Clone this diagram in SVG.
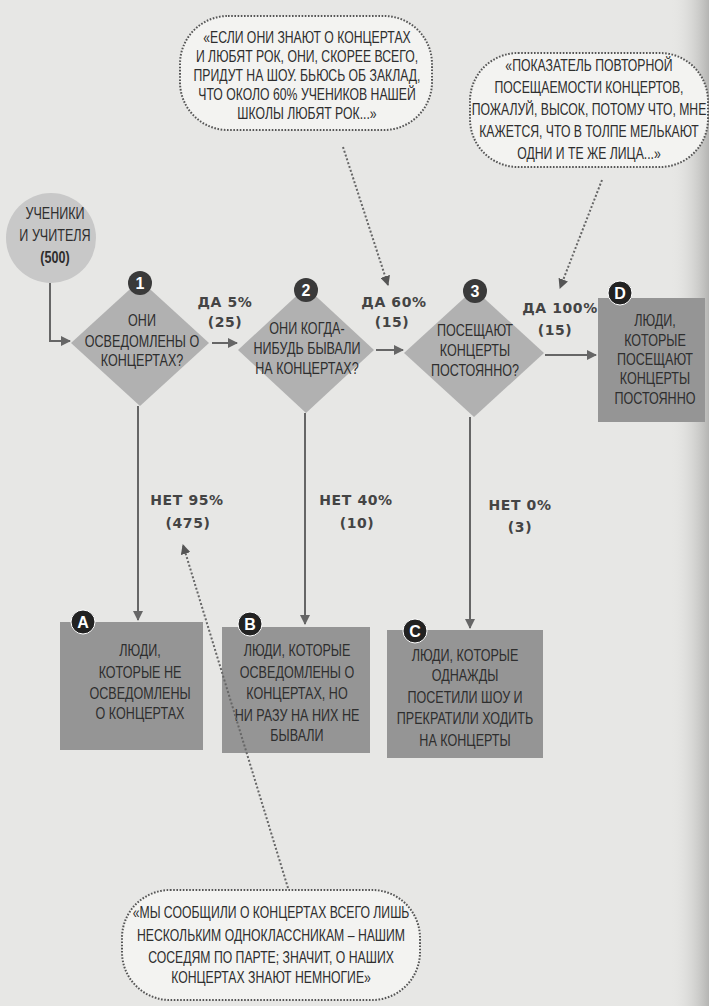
<svg xmlns="http://www.w3.org/2000/svg" width="709" height="1006" viewBox="0 0 709 1006">
<defs>
<style>
.t{font-family:"Liberation Sans",Arial,sans-serif;font-size:17px;fill:#2e2e2e;text-anchor:middle}
.tb{font-family:"Liberation Sans",Arial,sans-serif;font-size:17px;fill:#2e2e2e;text-anchor:middle;font-weight:bold}
.lab{font-family:"DejaVu Sans",sans-serif;font-weight:bold;font-size:14px;fill:#444;text-anchor:middle;letter-spacing:0.6px}
.num{font-family:"Liberation Sans",Arial,sans-serif;font-weight:bold;font-size:16px;fill:#fff;text-anchor:middle}
.dia{fill:#b1b1b1}
.box{fill:#959595}
.bub{fill:#f3f3f1;stroke:#555;stroke-width:2;stroke-dasharray:1.6 1.6}
.con{fill:none;stroke:#666;stroke-width:2}
.dot{fill:none;stroke:#666;stroke-width:2;stroke-dasharray:2 2}
.badge{fill:#222;stroke:#fff;stroke-width:1}
.nbadge{fill:#3a3a3a}
</style>
<marker id="ah" viewBox="0 0 10 10" refX="9" refY="5" markerWidth="5" markerHeight="5" orient="auto" markerUnits="strokeWidth">
<path d="M0,0 L10,5 L0,10 z" fill="#666"/>
</marker>
<marker id="ahd" viewBox="0 0 10 10" refX="9" refY="5" markerWidth="5" markerHeight="5" orient="auto" markerUnits="strokeWidth">
<path d="M0,0 L10,5 L0,10 z" fill="#555"/>
</marker>
<linearGradient id="edge" x1="0" y1="0" x2="1" y2="0">
<stop offset="0" stop-color="#e7e7e5" stop-opacity="0"/>
<stop offset="1" stop-color="#b5b5b3" stop-opacity="1"/>
</linearGradient>
</defs>
<rect x="0" y="0" width="709" height="1006" fill="#e7e7e5"/>
<rect x="670" y="0" width="39" height="1006" fill="url(#edge)"/>

<g id="bubble1">
<rect class="bub" x="180" y="16" width="252" height="114" rx="48"/>
<g transform="translate(307 0) scale(0.72 1)">
<text class="t" x="0" y="43">«ЕСЛИ ОНИ ЗНАЮТ О КОНЦЕРТАХ</text>
<text class="t" x="0" y="62">И ЛЮБЯТ РОК, ОНИ, СКОРЕЕ ВСЕГО,</text>
<text class="t" x="0" y="81">ПРИДУТ НА ШОУ. БЬЮСЬ ОБ ЗАКЛАД,</text>
<text class="t" x="0" y="100">ЧТО ОКОЛО 60% УЧЕНИКОВ НАШЕЙ</text>
<text class="t" x="0" y="119">ШКОЛЫ ЛЮБЯТ РОК...»</text>
</g>
</g>

<g id="bubble2">
<rect class="bub" x="470" y="53" width="238" height="114" rx="48"/>
<g transform="translate(589 0) scale(0.72 1)">
<text class="t" x="0" y="71">«ПОКАЗАТЕЛЬ ПОВТОРНОЙ</text>
<text class="t" x="0" y="93">ПОСЕЩАЕМОСТИ КОНЦЕРТОВ,</text>
<text class="t" x="0" y="115">ПОЖАЛУЙ, ВЫСОК, ПОТОМУ ЧТО,  МНЕ</text>
<text class="t" x="0" y="137">КАЖЕТСЯ, ЧТО В ТОЛПЕ МЕЛЬКАЮТ</text>
<text class="t" x="0" y="159">ОДНИ И ТЕ ЖЕ ЛИЦА...»</text>
</g>
</g>

<g id="start">
<circle cx="51" cy="238" r="45" fill="#c8c8c8"/>
<g transform="translate(55 0) scale(0.74 1)">
<text class="t" x="0" y="219">УЧЕНИКИ</text>
<text class="t" x="0" y="241">И УЧИТЕЛЯ</text>
<text class="tb" x="0" y="263">(500)</text>
</g>
</g>

<g id="q1">
<polygon class="dia" points="140,280 209,343 140,406 71,343"/>
<circle class="nbadge" cx="140" cy="283" r="12"/>
<text class="num" x="140" y="289">1</text>
<g transform="translate(142 0) scale(0.74 1)">
<text class="t" x="0" y="326">ОНИ</text>
<text class="t" x="0" y="347">ОСВЕДОМЛЕНЫ О</text>
<text class="t" x="0" y="366">КОНЦЕРТАХ?</text>
</g>
</g>

<g id="q2">
<polygon class="dia" points="306,287 374,350 306,413 238,350"/>
<circle class="nbadge" cx="306" cy="290" r="12"/>
<text class="num" x="306" y="296">2</text>
<g transform="translate(307 0) scale(0.74 1)">
<text class="t" x="0" y="334">ОНИ КОГДА-</text>
<text class="t" x="0" y="354">НИБУДЬ БЫВАЛИ</text>
<text class="t" x="0" y="374">НА КОНЦЕРТАХ?</text>
</g>
</g>

<g id="q3">
<polygon class="dia" points="474,289 544,353 474,417 404,353"/>
<circle class="nbadge" cx="475" cy="291" r="12"/>
<text class="num" x="475" y="297">3</text>
<g transform="translate(475 0) scale(0.74 1)">
<text class="t" x="0" y="336">ПОСЕЩАЮТ</text>
<text class="t" x="0" y="356">КОНЦЕРТЫ</text>
<text class="t" x="0" y="376">ПОСТОЯННО?</text>
</g>
</g>

<g id="D">
<rect class="box" x="598" y="298" width="107" height="124"/>
<circle class="badge" cx="620" cy="293" r="12"/>
<text class="num" x="620" y="299">D</text>
<g transform="translate(655 0) scale(0.74 1)">
<text class="t" x="0" y="326">ЛЮДИ,</text>
<text class="t" x="0" y="346">КОТОРЫЕ</text>
<text class="t" x="0" y="365">ПОСЕЩАЮТ</text>
<text class="t" x="0" y="384">КОНЦЕРТЫ</text>
<text class="t" x="0" y="404">ПОСТОЯННО</text>
</g>
</g>

<g id="A">
<rect class="box" x="60" y="622" width="143" height="128"/>
<circle class="badge" cx="83" cy="622" r="12"/>
<text class="num" x="83" y="628">A</text>
<g transform="translate(140 0) scale(0.74 1)">
<text class="t" x="0" y="656">ЛЮДИ,</text>
<text class="t" x="0" y="678">КОТОРЫЕ НЕ</text>
<text class="t" x="0" y="699">ОСВЕДОМЛЕНЫ</text>
<text class="t" x="0" y="719">О КОНЦЕРТАХ</text>
</g>
</g>

<g id="B">
<rect class="box" x="222" y="627" width="148" height="126"/>
<circle class="badge" cx="250" cy="624" r="12"/>
<text class="num" x="250" y="630">B</text>
<g transform="translate(297 0) scale(0.74 1)">
<text class="t" x="0" y="656">ЛЮДИ, КОТОРЫЕ</text>
<text class="t" x="0" y="678">ОСВЕДОМЛЕНЫ О</text>
<text class="t" x="0" y="699">КОНЦЕРТАХ, НО</text>
<text class="t" x="0" y="721">НИ РАЗУ НА НИХ НЕ</text>
<text class="t" x="0" y="741">БЫВАЛИ</text>
</g>
</g>

<g id="C">
<rect class="box" x="387" y="630" width="156" height="128"/>
<circle class="badge" cx="415" cy="631" r="12"/>
<text class="num" x="415" y="637">C</text>
<g transform="translate(465 0) scale(0.74 1)">
<text class="t" x="0" y="661">ЛЮДИ, КОТОРЫЕ</text>
<text class="t" x="0" y="681">ОДНАЖДЫ</text>
<text class="t" x="0" y="703">ПОСЕТИЛИ ШОУ И</text>
<text class="t" x="0" y="724">ПРЕКРАТИЛИ ХОДИТЬ</text>
<text class="t" x="0" y="746">НА КОНЦЕРТЫ</text>
</g>
</g>

<g id="bubble3">
<rect class="bub" x="122" y="890" width="298" height="110" rx="48"/>
<g transform="translate(271 0) scale(0.72 1)">
<text class="t" x="0" y="918">«МЫ СООБЩИЛИ О КОНЦЕРТАХ ВСЕГО ЛИШЬ</text>
<text class="t" x="0" y="941">НЕСКОЛЬКИМ ОДНОКЛАССНИКАМ – НАШИМ</text>
<text class="t" x="0" y="963">СОСЕДЯМ ПО ПАРТЕ; ЗНАЧИТ, О НАШИХ</text>
<text class="t" x="0" y="983">КОНЦЕРТАХ ЗНАЮТ НЕМНОГИЕ»</text>
</g>
</g>

<g id="connectors">
<path class="con" d="M50 283 V341 H70" marker-end="url(#ah)"/>
<path class="con" d="M212 343 H237" marker-end="url(#ah)"/>
<path class="con" d="M376 350 H403" marker-end="url(#ah)"/>
<path class="con" d="M545 355 H596" marker-end="url(#ah)"/>
<path class="con" d="M138 406 V620" marker-end="url(#ah)"/>
<path class="con" d="M305 413 V624" marker-end="url(#ah)"/>
<path class="con" d="M470 417 V628" marker-end="url(#ah)"/>
<path class="dot" d="M343 147 L388 285" marker-end="url(#ahd)"/>
<path class="dot" d="M602 180 L560 288" marker-end="url(#ahd)"/>
<path class="dot" d="M288 888 L183 545" marker-end="url(#ahd)"/>
<text class="lab" x="225" y="307">ДА 5%</text>
<text class="lab" x="225" y="327">(25)</text>
<text class="lab" x="394" y="307">ДА 60%</text>
<text class="lab" x="392" y="327">(15)</text>
<text class="lab" x="560" y="313">ДА 100%</text>
<text class="lab" x="555" y="335">(15)</text>
<text class="lab" x="187" y="505">НЕТ 95%</text>
<text class="lab" x="188" y="528">(475)</text>
<text class="lab" x="356" y="505">НЕТ 40%</text>
<text class="lab" x="357" y="528">(10)</text>
<text class="lab" x="520" y="510">НЕТ  0%</text>
<text class="lab" x="520" y="532">(3)</text>
</g>
</svg>
